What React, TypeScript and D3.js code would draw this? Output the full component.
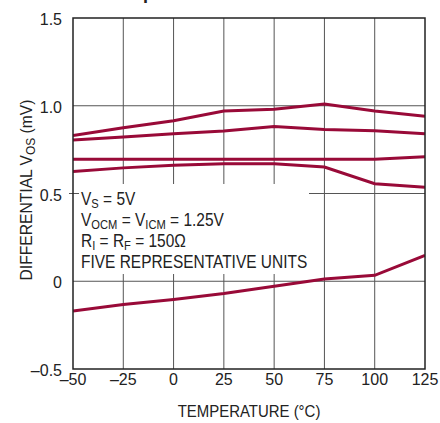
import * as React from "react";
import * as d3 from "d3";

const temps = [-50, -25, 0, 25, 50, 75, 100, 125];
const unitA = [0.83, 0.875, 0.915, 0.97, 0.98, 1.01, 0.97, 0.94];
const unitB = [0.805, 0.822, 0.84, 0.856, 0.882, 0.864, 0.858, 0.841];
const unitC = [0.695, 0.695, 0.695, 0.695, 0.695, 0.695, 0.695, 0.71];
const unitD = [0.625, 0.646, 0.661, 0.67, 0.67, 0.651, 0.556, 0.536];
const unitE = [-0.169, -0.133, -0.104, -0.07, -0.028, 0.013, 0.034, 0.148];
const units = [unitA, unitB, unitC, unitD, unitE];

const xTicks = [-50, -25, 0, 25, 50, 75, 100, 125];
const yTicks = [-0.5, 0, 0.5, 1.0, 1.5];
const yTickLabels = ["–0.5", "0", "0.5", "1.0", "1.5"];

const FONT = "'Liberation Sans', Arial, sans-serif";
const LINE = "#990a38";
const INK = "#222";

export default function App() {
  const left = 73, right = 425, top = 18, bottom = 369;
  const x = d3.scaleLinear().domain([-50, 125]).range([left, right]);
  const y = d3.scaleLinear().domain([-0.5, 1.5]).range([bottom, top]);
  const line = d3
    .line<number>()
    .x((_, i) => x(temps[i]))
    .y((d) => y(d));

  // the note box hides part of the grid
  const box = { x0: 79, x1: 309, y0: 184, y1: 274 };
  const noteRows = [205, 226, 247, 268];

  return (
    <div style={{ position: "absolute", left: 0, top: 0 }}>
      <svg width={440} height={423} style={{ display: "block", fontFamily: FONT }}>
        <rect width={440} height={423} fill="#fff" />
        <text x={143} y={-1} fontSize={18} fontWeight="bold" fill={INK}>p</text>
        <defs>
          <clipPath id="plot">
            <rect x={left} y={top} width={right - left} height={bottom - top} />
          </clipPath>
        </defs>
        {/* vertical grid */}
        {xTicks.slice(1, -1).map((t) => {
          const inBox = x(t) > box.x0 && x(t) < box.x1;
          return inBox ? (
            <g key={t}>
              <line x1={x(t)} x2={x(t)} y1={top} y2={box.y0} stroke="#555" strokeWidth={1} />
              <line x1={x(t)} x2={x(t)} y1={box.y1} y2={bottom} stroke="#555" strokeWidth={1} />
            </g>
          ) : (
            <line key={t} x1={x(t)} x2={x(t)} y1={top} y2={bottom} stroke="#555" strokeWidth={1} />
          );
        })}
        {/* horizontal grid */}
        {yTicks.slice(1, -1).map((t) =>
          t === 0.5 ? (
            <g key={t}>
              <line x1={left - 4} x2={box.x0} y1={y(t)} y2={y(t)} stroke="#555" strokeWidth={1} />
              <line x1={box.x1} x2={right} y1={y(t)} y2={y(t)} stroke="#555" strokeWidth={1} />
            </g>
          ) : (
            <line key={t} x1={left} x2={right} y1={y(t)} y2={y(t)} stroke="#555" strokeWidth={1} />
          )
        )}
        <g clipPath="url(#plot)">
          {units.map((u, i) => (
            <path key={i} d={line(u) ?? ""} fill="none" stroke={LINE} strokeWidth={3} />
          ))}
        </g>
        <rect x={left} y={top} width={right - left} height={bottom - top} fill="none" stroke={INK} strokeWidth={1.5} />
        {/* y tick labels */}
        {yTicks.map((t, i) => (
          <text key={t} x={62} y={y(t) + 7} textAnchor="end" fontSize={16} fill={INK}>
            {yTickLabels[i]}
          </text>
        ))}
        {/* x tick labels */}
        {xTicks.map((t) => (
          <text key={t} x={x(t)} y={385} textAnchor="middle" fontSize={16} fill={INK}>
            {t < 0 ? "–" + Math.abs(t) : String(t)}
          </text>
        ))}
        <text
          transform={`translate(${(left + right) / 2},417) scale(0.88,1)`}
          textAnchor="middle"
          fontSize={17}
          fill={INK}
        >
          TEMPERATURE (°C)
        </text>
        <text transform="translate(32,190) rotate(-90) scale(0.92,1)" textAnchor="middle" fontSize={17} fill={INK}>
          DIFFERENTIAL V<tspan fontSize={13} dy={3}>OS</tspan>
          <tspan dy={-3}> (mV)</tspan>
        </text>
        {/* notes */}
        <g fontSize={18} fill={INK}>
          <text transform={`translate(81,${noteRows[0]}) scale(0.86,1)`}>
            V<tspan fontSize={13} dy={3}>S</tspan>
            <tspan dy={-3}> = 5V</tspan>
          </text>
          <text transform={`translate(81,${noteRows[1]}) scale(0.86,1)`}>
            V<tspan fontSize={13} dy={3}>OCM</tspan>
            <tspan dy={-3}> = V</tspan>
            <tspan fontSize={13} dy={3}>ICM</tspan>
            <tspan dy={-3}> = 1.25V</tspan>
          </text>
          <text transform={`translate(81,${noteRows[2]}) scale(0.86,1)`}>
            R<tspan fontSize={13} dy={3}>I</tspan>
            <tspan dy={-3}> = R</tspan>
            <tspan fontSize={13} dy={3}>F</tspan>
            <tspan dy={-3}> = 150Ω</tspan>
          </text>
          <text transform={`translate(81,${noteRows[3]}) scale(0.86,1)`}>FIVE REPRESENTATIVE UNITS</text>
        </g>
      </svg>
    </div>
  );
}
